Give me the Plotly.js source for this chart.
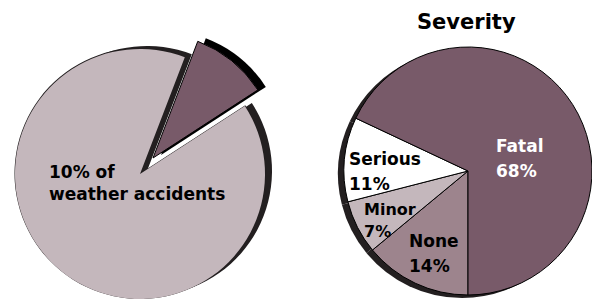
<!DOCTYPE html>
<html>
<head>
<meta charset="utf-8">
<script src="https://cdn.plot.ly/plotly-3.0.1.min.js"></script>
<style>
html,body{margin:0;padding:0;background:#fff;overflow:hidden;}
#chart{width:592px;height:299px;}
</style>
</head>
<body>
<div id="chart"></div>
<script>
// ---- data ----
const weatherLabels = ['10% of weather accidents', 'Other weather accidents'];
const weatherValues = [10, 90];
const severityLabels = ['None', 'Minor', 'Serious', 'Fatal'];
const severityValues = [14, 7, 11, 68];
const severityTitle = 'Severity';
const weatherText = ['10% of', 'weather accidents'];

// ---- styles ----
const W = 592, H = 299;
const LIGHT = '#c4b7bc', DARK = '#785a69', MID = '#9d848d', SHADOW = '#231f20', NONE = 'rgba(0,0,0,0)';
const FONT = 'DejaVu Sans, Liberation Sans, Arial, sans-serif';

function dom(cx, cy, r) {
  return {x: [(cx - r) / W, (cx + r) / W], y: [1 - (cy + r) / H, 1 - (cy - r) / H]};
}
function pie(values, labels, colors, lineColors, lineWidths, domain, rotation) {
  return {
    type: 'pie', values: values, labels: labels, sort: false, direction: 'clockwise',
    rotation: rotation, textinfo: 'none', hoverinfo: 'skip', showlegend: false,
    marker: {colors: colors, line: {color: lineColors, width: lineWidths}},
    domain: domain
  };
}

const rotLeft = 21;
const traces = [
  // shadow of main pie
  pie(weatherValues, weatherLabels, [NONE, SHADOW], [NONE, NONE], [0, 0], dom(147, 171, 125), rotLeft),
  // thin outline of main pie
  pie(weatherValues, weatherLabels, [NONE, SHADOW], [NONE, NONE], [0, 0], dom(140, 174, 126), rotLeft),
  // main pie (remaining share)
  pie(weatherValues, weatherLabels, [NONE, LIGHT], [NONE, NONE], [0, 0], dom(140, 174, 125), rotLeft),
  // shadow of exploded slice
  pie(weatherValues, weatherLabels, ['#000', NONE], [NONE, NONE], [0, 0], dom(161, 155, 125), rotLeft),
  // exploded slice
  pie(weatherValues, weatherLabels, [DARK, NONE], ['#000', NONE], [1, 0], dom(153, 158, 125), rotLeft),
  // shadow of severity pie
  pie(severityValues, severityLabels, severityValues.map(() => SHADOW), severityValues.map(() => NONE),
      severityValues.map(() => 0), dom(462, 174, 124), 180),
  // severity pie
  pie(severityValues, severityLabels, [MID, LIGHT, '#ffffff', DARK], severityValues.map(() => '#000'),
      severityValues.map(() => 1), dom(468, 171, 124), 180)
];

function ann(text, px, py, size, color, anchor) {
  return {text: text, x: px / W, y: 1 - py / H, xref: 'paper', yref: 'paper',
          xanchor: anchor || 'left', yanchor: 'middle', showarrow: false,
          font: {family: FONT, size: size, color: color || '#000', weight: 'bold'}};
}

// label positions (left edge, vertical middle), in order None, Minor, Serious, Fatal
const labelPos = [[407, 241, 266, 17], [362, 209, 231, 16], [347, 159, 184, 17], [494, 146, 171, 17]];
const labelColor = ['#000', '#000', '#000', '#fff'];

const annotations = [
  ann(severityTitle, 466, 22, 21, '#000', 'center'),
  ann(weatherText[0], 47, 172, 17),
  ann(weatherText[1], 47, 194, 17)
];
severityLabels.forEach((lab, i) => {
  const p = labelPos[i];
  annotations.push(ann(lab, p[0], p[1], p[3], labelColor[i]));
  annotations.push(ann(severityValues[i] + '%', p[0], p[2], p[3], labelColor[i]));
});

const layout = {
  width: W, height: H, margin: {l: 0, r: 0, t: 0, b: 0},
  paper_bgcolor: '#fff', plot_bgcolor: '#fff',
  showlegend: false, annotations: annotations,
  font: {family: FONT}
};

Plotly.newPlot('chart', traces, layout, {staticPlot: true, displayModeBar: false});
</script>
</body>
</html>
